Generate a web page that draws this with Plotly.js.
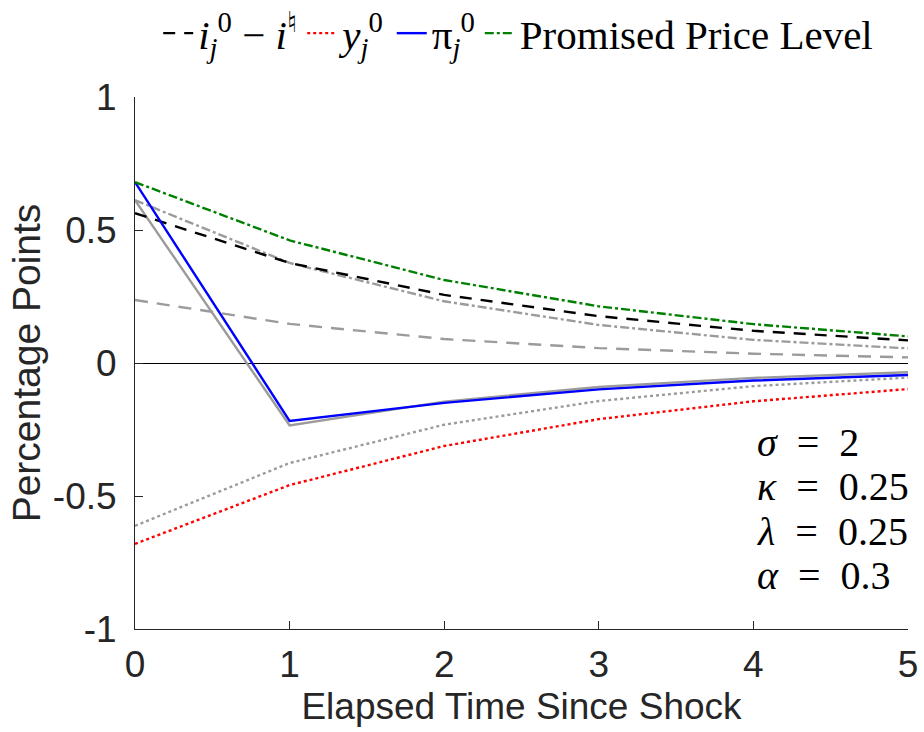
<!DOCTYPE html>
<html>
<head>
<meta charset="utf-8">
<script src="https://cdn.plot.ly/plotly-3.0.1.min.js"></script>
<style>body{margin:0;padding:0;background:#fff;} #chart{width:924px;height:732px;}</style>
</head>
<body>
<div id="chart"></div>
<script>
// Elapsed time
const periods = [0, 1, 2, 3, 4, 5];
// Main series
const rateGap   = [0.563, 0.376, 0.256, 0.176, 0.121, 0.085];
const outputGap = [-0.680, -0.459, -0.312, -0.211, -0.144, -0.098];
const inflation = [0.680, -0.218, -0.150, -0.099, -0.066, -0.045];
const promised  = [0.680, 0.461, 0.312, 0.213, 0.146, 0.100];
// Gray comparison series
const grayPromised  = [0.612, 0.376, 0.232, 0.143, 0.087, 0.055];
const grayRateGap   = [0.237, 0.147, 0.090, 0.056, 0.035, 0.021];
const grayInflation = [0.612, -0.235, -0.145, -0.090, -0.056, -0.035];
const grayOutput    = [-0.612, -0.376, -0.232, -0.143, -0.087, -0.055];
// Labels
const legendLabels = [
  '<i>i</i><sub><i>j</i></sub><sup>0</sup> \u2212 <i>i</i><sup>\u266E</sup>',
  '<i>y</i><sub><i>j</i></sub><sup>0</sup>',
  '\u03C0<sub><i>j</i></sub><sup>0</sup>',
  'Promised Price Level'
];
const paramLabels = ['<i>\u03C3</i>\u2002=\u20022', '<i>\u03BA</i>\u2002=\u20020.25', '<i>\u03BB</i>\u2002=\u20020.25', '<i>\u03B1</i>\u2002=\u20020.3'];
const paramY = [-0.30, -0.466, -0.632, -0.80];
const xTicks = [0, 1, 2, 3, 4, 5];
const yTicks = [-1, -0.5, 0, 0.5, 1];
const yTickText = ['-1', '-0.5', '0', '0.5', '1'];

const gray = 'rgb(155,155,155)';
const W = 2.4;
const traces = [
  {x: periods, y: grayPromised, mode: 'lines', line: {color: gray, width: W, dash: 'dashdot'}, showlegend: false, hoverinfo: 'skip'},
  {x: periods, y: grayRateGap, mode: 'lines', line: {color: gray, width: W, dash: '13px,9px'}, showlegend: false, hoverinfo: 'skip'},
  {x: periods, y: grayInflation, mode: 'lines', line: {color: gray, width: W}, showlegend: false, hoverinfo: 'skip'},
  {x: periods, y: grayOutput, mode: 'lines', line: {color: gray, width: W, dash: 'dot'}, showlegend: false, hoverinfo: 'skip'},
  {x: periods, y: rateGap, name: legendLabels[0], mode: 'lines', line: {color: 'black', width: W, dash: '12px,9px'}},
  {x: periods, y: outputGap, name: legendLabels[1], mode: 'lines', line: {color: 'rgb(255,0,0)', width: W, dash: 'dot'}},
  {x: periods, y: inflation, name: legendLabels[2], mode: 'lines', line: {color: 'rgb(0,0,255)', width: W}},
  {x: periods, y: promised, name: legendLabels[3], mode: 'lines', line: {color: 'rgb(0,128,0)', width: W, dash: 'dashdot'}}
];

const annotations = paramLabels.map((t, i) => ({
  x: 4.01, y: paramY[i], xref: 'x', yref: 'y', text: t, showarrow: false,
  xanchor: 'left', yanchor: 'middle',
  font: {family: 'Liberation Serif, DejaVu Serif, serif', size: 40, color: '#000'}
}));

const tickFont = {family: 'Liberation Sans, Arial, sans-serif', size: 37, color: '#262626'};
const xTitleFont = {family: 'Liberation Sans, Arial, sans-serif', size: 37, color: '#262626'};
const yTitleFont = {family: 'Liberation Sans, Arial, sans-serif', size: 39, color: '#262626'};
const layout = {
  width: 924, height: 732,
  margin: {l: 135, r: 16, t: 97, b: 103},
  paper_bgcolor: '#fff', plot_bgcolor: '#fff',
  showlegend: true,
  legend: {
    orientation: 'h', x: 0.03, xanchor: 'left', y: 1.0, yref: 'container', yanchor: 'top',
    font: {family: 'Liberation Serif, DejaVu Serif, serif', size: 41, color: '#000'},
    itemwidth: 30, tracegroupgap: 0, bgcolor: 'rgba(0,0,0,0)'
  },
  xaxis: {
    range: [0, 5], tickvals: xTicks, ticktext: xTicks.map(String),
    showgrid: false, zeroline: false, showline: true, linecolor: '#262626', linewidth: 1,
    ticks: 'inside', ticklen: 8, tickcolor: '#262626', tickfont: tickFont, ticklabelstandoff: 3,
    title: {text: 'Elapsed Time Since Shock', font: xTitleFont, standoff: 8}
  },
  yaxis: {
    range: [-1, 1], tickvals: yTicks, ticktext: yTickText,
    showgrid: false, zeroline: true, zerolinecolor: '#000', zerolinewidth: 1,
    showline: true, linecolor: '#262626', linewidth: 1,
    ticks: 'inside', ticklen: 8, tickcolor: '#262626', tickfont: tickFont, ticklabelstandoff: 10,
    title: {text: 'Percentage Points', font: yTitleFont, standoff: 0}
  },
  annotations: annotations
};

Plotly.newPlot('chart', traces, layout, {displayModeBar: false, staticPlot: true});
</script>
</body>
</html>
